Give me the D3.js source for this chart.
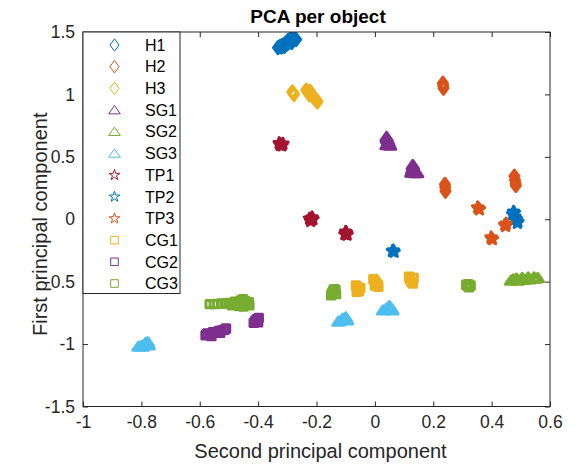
<!DOCTYPE html>
<html>
<head>
<meta charset="utf-8">
<script src="https://cdn.jsdelivr.net/npm/d3@7"></script>
<style>
  html, body { margin: 0; padding: 0; background: #fff; }
  svg { display: block; font-family: "Liberation Sans", Arial, Helvetica, sans-serif; }
</style>
</head>
<body>
<svg id="chart" width="576" height="468"></svg>
<script>
// ---------------- DATA ----------------
const chartTitle = "PCA per object";
const xLabel = "Second principal component";
const yLabel = "First principal component";
const xTicks = [-1, -0.8, -0.6, -0.4, -0.2, 0, 0.2, 0.4, 0.6];
const xTickLabels = ["-1", "-0.8", "-0.6", "-0.4", "-0.2", "0", "0.2", "0.4", "0.6"];
const yTicks = [-1.5, -1, -0.5, 0, 0.5, 1, 1.5];
const yTickLabels = ["-1.5", "-1", "-0.5", "0", "0.5", "1", "1.5"];
const categories = ["H1", "H2", "H3", "SG1", "SG2", "SG3", "TP1", "TP2", "TP3", "CG1", "CG2", "CG3"];

const H1 = [[-0.332,1.375],[-0.325,1.385],[-0.32,1.38],[-0.318,1.392],[-0.31,1.40],[-0.305,1.41],[-0.30,1.405],
  [-0.295,1.42],[-0.29,1.445],[-0.288,1.43],[-0.285,1.415],[-0.282,1.44],[-0.275,1.445],[-0.27,1.44],[-0.31,1.385],[-0.298,1.43]];
const H2 = [[0.233,1.09],[0.234,1.07],[0.235,1.05],
  [0.24,0.28],[0.241,0.255],[0.242,0.225],
  [0.478,0.345],[0.48,0.315],[0.482,0.29],[0.483,0.27]];
const H3 = [[-0.283,1.02],[-0.28,1.01],[-0.277,1.0],
  [-0.235,1.035],[-0.23,1.02],[-0.225,1.0],[-0.222,1.025],[-0.215,0.99],[-0.21,0.975],[-0.205,0.965],[-0.2,0.955],[-0.197,0.94]];
const SG1 = [[0.04,0.66],[0.042,0.645],[0.045,0.63],[0.047,0.615],[0.05,0.60],[0.052,0.59],[0.04,0.595],
  [0.13,0.435],[0.131,0.42],[0.128,0.40],[0.135,0.395],[0.14,0.38],[0.145,0.37],[0.125,0.375],[0.135,0.37]];
const SG2 = [[0.467,-0.49],[0.475,-0.48],[0.485,-0.475],[0.49,-0.49],[0.5,-0.485],[0.505,-0.47],[0.51,-0.485],
  [0.525,-0.465],[0.53,-0.48],[0.545,-0.465],[0.55,-0.475],[0.558,-0.47]];
const SG3 = [[-0.81,-1.02],[-0.80,-1.015],[-0.79,-1.005],[-0.785,-0.99],[-0.778,-0.985],[-0.775,-1.01],[-0.795,-1.02],
  [-0.125,-0.82],[-0.115,-0.81],[-0.105,-0.80],[-0.10,-0.785],[-0.095,-0.81],[-0.11,-0.795],
  [0.028,-0.73],[0.038,-0.72],[0.045,-0.705],[0.05,-0.695],[0.058,-0.72],[0.06,-0.73]];
const TP1 = [[-0.328,0.61],[-0.322,0.60],[-0.318,0.59],[-0.325,0.595],[-0.315,0.605],
  [-0.224,0.005],[-0.218,-0.005],[-0.212,0.0],[-0.22,-0.015],[-0.215,0.015],
  [-0.103,-0.12],[-0.097,-0.11],[-0.095,-0.125],[-0.10,-0.10]];
const TP2 = [[0.06,-0.255],[0.066,-0.262],[0.063,-0.25],
  [0.475,0.06],[0.472,0.04],[0.478,0.05],[0.48,0.02],[0.485,0.0],[0.49,-0.02],[0.488,-0.03]];
const TP3 = [[0.352,0.095],[0.356,0.085],[0.358,0.078],
  [0.445,-0.045],[0.448,-0.055],[0.45,-0.035],
  [0.398,-0.145],[0.40,-0.155],[0.403,-0.16]];
const CG1 = [[-0.065,-0.53],[-0.06,-0.545],[-0.058,-0.56],[-0.062,-0.58],[-0.055,-0.575],[-0.05,-0.55],
  [-0.005,-0.48],[0.0,-0.495],[0.005,-0.51],[0.01,-0.525],[0.012,-0.54],[0.0,-0.53],
  [0.117,-0.46],[0.12,-0.48],[0.125,-0.50],[0.13,-0.515],[0.133,-0.47]];
const CG2 = [[-0.58,-0.93],[-0.575,-0.915],[-0.565,-0.92],[-0.56,-0.935],[-0.555,-0.905],[-0.545,-0.91],[-0.535,-0.895],
  [-0.53,-0.91],[-0.525,-0.89],[-0.515,-0.885],[-0.51,-0.875],
  [-0.415,-0.83],[-0.41,-0.815],[-0.405,-0.80],[-0.398,-0.79],[-0.40,-0.825]];
const CG3 = [[-0.566,-0.68],[-0.552,-0.68],[-0.54,-0.678],[-0.525,-0.675],[-0.51,-0.675],[-0.50,-0.67],[-0.49,-0.69],
  [-0.48,-0.66],[-0.47,-0.675],[-0.465,-0.695],[-0.46,-0.65],[-0.452,-0.64],[-0.45,-0.70],[-0.445,-0.655],[-0.44,-0.68],
  [-0.432,-0.665],[-0.43,-0.69],
  [-0.15,-0.61],[-0.147,-0.59],[-0.143,-0.575],[-0.14,-0.56],[-0.135,-0.565],[-0.133,-0.60],
  [0.313,-0.525],[0.318,-0.535],[0.322,-0.545],[0.328,-0.53],[0.32,-0.52]];

const seriesValues = [H1, H2, H3, SG1, SG2, SG3, TP1, TP2, TP3, CG1, CG2, CG3];

// ---------------- STYLE ----------------
const colors = ["#0072BD","#D95319","#EDB120","#7E2F8E","#77AC30","#4DBEEE","#A2142F",
                "#0072BD","#D95319","#EDB120","#7E2F8E","#77AC30"];
const shapes = ["d","d","d","^","^","^","p","p","p","s","s","s"];
const axisColor = "#262626";

const W = 576, H = 468;
const m = { left: 83, right: 550, top: 32, bottom: 406.5 };

const svg = d3.select("#chart");
const x = d3.scaleLinear().domain([-1, 0.6]).range([m.left, m.right]);
const y = d3.scaleLinear().domain([-1.5, 1.5]).range([m.bottom, m.top]);

function markerPath(shape, k) {
  k = k || 1;
  if (shape === "d") { const w = 4.6 * k, h = 6.2 * k; return `M0,${-h}L${w},0L0,${h}L${-w},0Z`; }
  if (shape === "^") { const w = 5.8 * k, a = 4.6 * k, b = 3.8 * k; return `M0,${-a}L${w},${b}L${-w},${b}Z`; }
  if (shape === "s") { const s = 3.8 * k; return `M${-s},${-s}H${s}V${s}H${-s}Z`; }
  if (shape === "p") {
    const R = 5.6 * k, r = R * 0.382; let p = "";
    for (let i = 0; i < 10; i++) {
      const ang = -Math.PI / 2 + i * Math.PI / 5;
      const rr = i % 2 === 0 ? R : r;
      p += (i === 0 ? "M" : "L") + (rr * Math.cos(ang)).toFixed(2) + "," + (rr * Math.sin(ang)).toFixed(2);
    }
    return p + "Z";
  }
}

svg.append("defs").append("clipPath").attr("id", "clip")
  .append("rect").attr("x", m.left).attr("y", m.top)
  .attr("width", m.right - m.left).attr("height", m.bottom - m.top);

svg.append("rect").attr("x", m.left).attr("y", m.top)
  .attr("width", m.right - m.left).attr("height", m.bottom - m.top)
  .attr("fill", "#fff");

// points
const pts = svg.append("g").attr("clip-path", "url(#clip)");
seriesValues.forEach((vals, i) => {
  pts.append("g").selectAll("path").data(vals).join("path")
    .attr("d", markerPath(shapes[i], 0.98))
    .attr("transform", d => `translate(${x(d[0])},${y(d[1])})`)
    .attr("fill", "none")
    .attr("stroke", colors[i])
    .attr("stroke-width", 3)
    .attr("stroke-linejoin", "round");
});

// axes
const tickLen = 5;
const fontTick = 17.5;
const xAxisB = d3.axisBottom(x).tickValues(xTicks).tickFormat((d, i) => xTickLabels[i]).tickSizeInner(-tickLen).tickSizeOuter(0).tickPadding(9);
const xAxisT = d3.axisTop(x).tickValues(xTicks).tickFormat("").tickSizeInner(-tickLen).tickSizeOuter(0);
const yAxisL = d3.axisLeft(y).tickValues(yTicks).tickFormat((d, i) => yTickLabels[i]).tickSizeInner(-tickLen).tickSizeOuter(0).tickPadding(8);
const yAxisR = d3.axisRight(y).tickValues(yTicks).tickFormat("").tickSizeInner(-tickLen).tickSizeOuter(0);

function styleAxis(g) {
  g.select(".domain").remove();
  g.selectAll("line").attr("stroke", axisColor).attr("stroke-width", 1);
  g.selectAll("text").attr("fill", axisColor).style("font-size", fontTick + "px")
    .style("font-family", '"Liberation Sans", Arial, sans-serif');
}
svg.append("g").attr("transform", `translate(0,${m.bottom})`).call(xAxisB).call(styleAxis);
svg.append("g").attr("transform", `translate(0,${m.top})`).call(xAxisT).call(styleAxis);
svg.append("g").attr("transform", `translate(${m.left},0)`).call(yAxisL).call(styleAxis);
svg.append("g").attr("transform", `translate(${m.right},0)`).call(yAxisR).call(styleAxis);

svg.append("rect").attr("x", m.left).attr("y", m.top)
  .attr("width", m.right - m.left).attr("height", m.bottom - m.top)
  .attr("fill", "none").attr("stroke", axisColor).attr("stroke-width", 1);

// labels
svg.append("text").attr("x", (m.left + m.right) / 2 + 4).attr("y", 458)
  .attr("text-anchor", "middle").attr("fill", axisColor).style("font-size", "20px").text(xLabel);
svg.append("text").attr("transform", `translate(47,${(m.top + m.bottom) / 2 + 5}) rotate(-90)`)
  .attr("text-anchor", "middle").attr("fill", axisColor).style("font-size", "20px").text(yLabel);
svg.append("text").attr("x", 318).attr("y", 22.5)
  .attr("text-anchor", "middle").attr("fill", "#000").style("font-size", "19px").style("font-weight", "bold").text(chartTitle);

// legend
const lg = svg.append("g");
const lgX = 83, lgY = 32, lgW = 97, lgH = 261.5;
lg.append("rect").attr("x", lgX).attr("y", lgY).attr("width", lgW).attr("height", lgH)
  .attr("fill", "#fff").attr("stroke", axisColor).attr("stroke-width", 1);
const rowY = d3.scaleLinear().domain([0, categories.length - 1]).range([45, 283.5]);
categories.forEach((name, i) => {
  lg.append("path").attr("d", markerPath(shapes[i]))
    .attr("transform", `translate(114.5,${rowY(i)})`)
    .attr("fill", "none").attr("stroke", colors[i]).attr("stroke-width", 1);
  lg.append("text").attr("x", 145).attr("y", rowY(i)).attr("dy", "0.36em")
    .attr("fill", "#000").style("font-size", "16px").text(name);
});
</script>
</body>
</html>
